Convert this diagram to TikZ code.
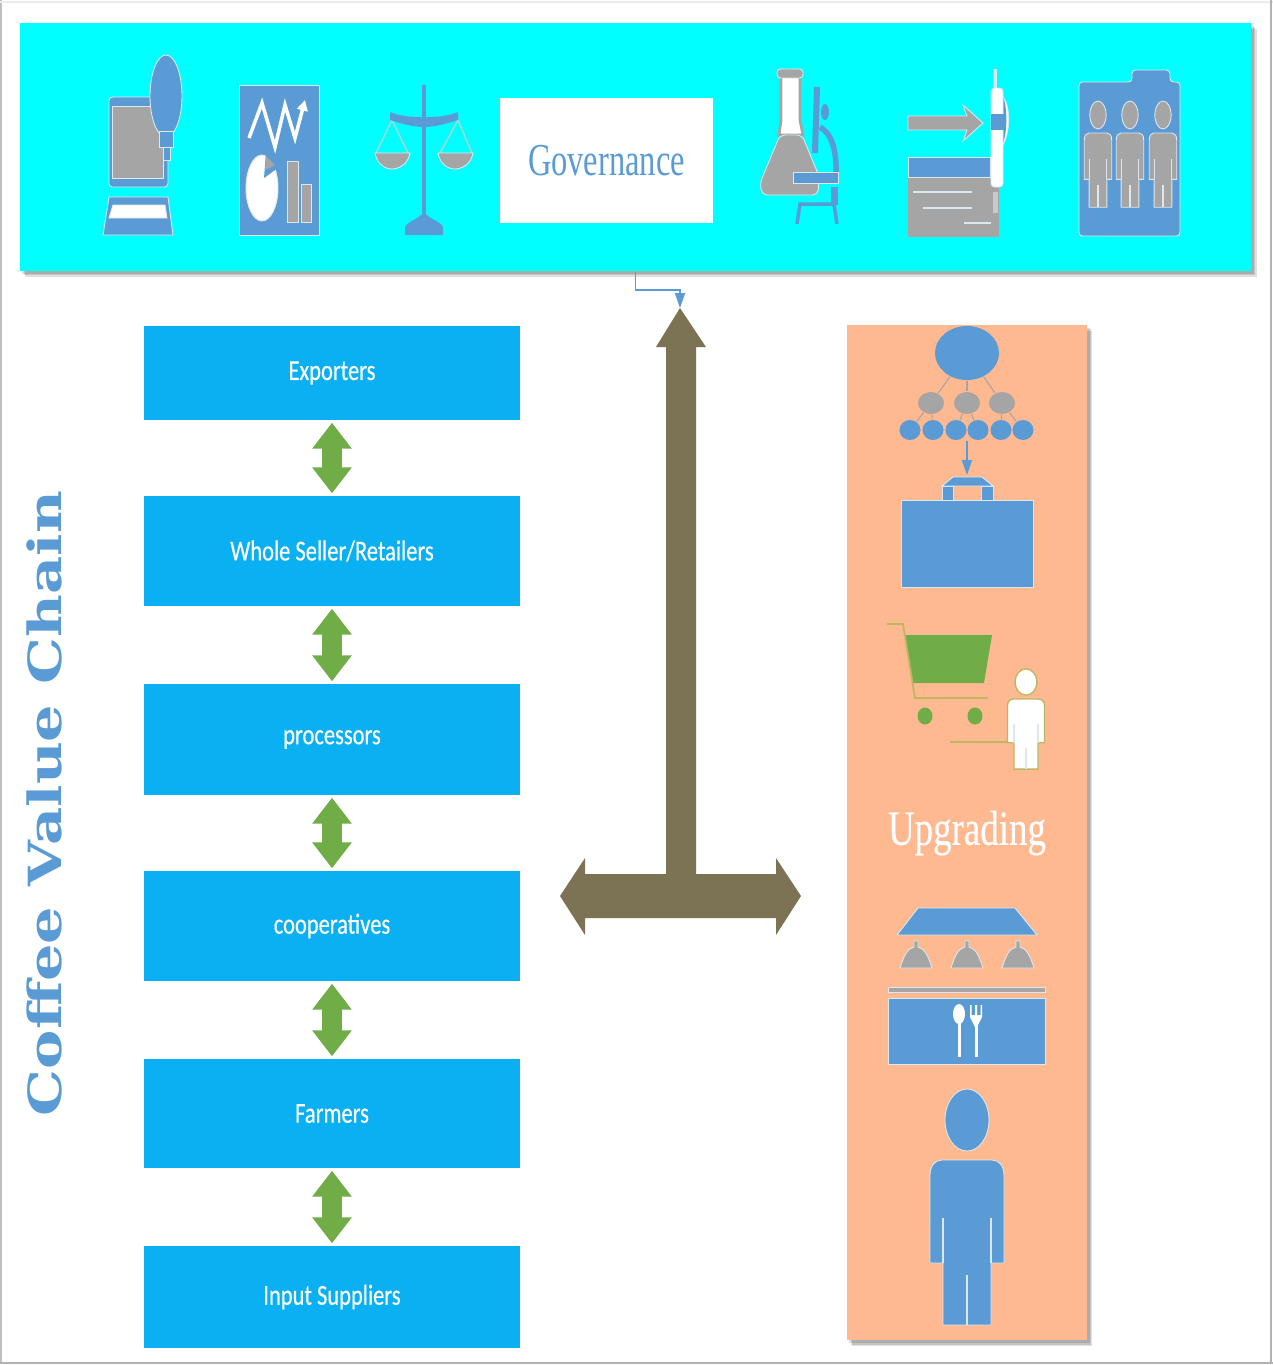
\documentclass[tikz,border=0pt]{standalone}
\usepackage{fontspec}
\usetikzlibrary{arrows.meta,shapes.geometric,shadows}
\setmainfont{Liberation Serif}
\newfontfamily\boxfont[FakeStretch=0.78,FakeBold=0.4]{Carlito}
\newfontfamily\govfont[FakeStretch=0.71]{Liberation Serif}
\newfontfamily\upfont[FakeStretch=0.75,FakeBold=0.3]{Liberation Serif}
\newfontfamily\chainfont[FakeStretch=1.29]{DejaVu Serif}
\definecolor{bandcyan}{HTML}{00FFFF}
\definecolor{boxblue}{HTML}{0AB0F2}
\definecolor{iconblue}{HTML}{5B9BD5}
\definecolor{icongray}{HTML}{A5A5A5}
\definecolor{panelorange}{HTML}{FFB990}
\definecolor{leafgreen}{HTML}{70AD47}
\definecolor{teebrown}{HTML}{7B7353}
\definecolor{paleline}{HTML}{DDE8EE}
\definecolor{oliveline}{HTML}{BDB765}
\definecolor{stringline}{HTML}{A8D8D0}
\tikzset{
  chainbox/.style={fill=boxblue,text=white,minimum width=3.76cm,inner sep=0pt,
    font=\boxfont\fontsize{8.2}{10}\selectfont},
  linkarrow/.style={draw=leafgreen,line width=0.2cm,shorten >=.02cm,shorten <=.02cm,
    {Triangle[width=.38cm,length=.26cm]}-{Triangle[width=.38cm,length=.26cm]}},
  softshadow/.style={
    drop shadow={shadow xshift=1.5pt,shadow yshift=-1.7pt,opacity=.12,fill=black},
    drop shadow={shadow xshift=1.1pt,shadow yshift=-1.2pt,opacity=.12,fill=black},
    drop shadow={shadow xshift=.7pt,shadow yshift=-.8pt,opacity=.12,fill=black}},
  blueicon/.style={fill=iconblue,draw=paleline,line width=.25pt},
  grayicon/.style={fill=icongray,draw=paleline,line width=.25pt},
  whiteicon/.style={fill=white,draw=paleline,line width=.25pt},
  orgnode/.style={ellipse,inner sep=0pt,draw=none},
  paleseam/.style={draw=paleline,line width=.3pt}
}
% one standing figure, head centre at #1,#2
\newcommand{\figureicon}[5]{
  \begin{scope}[shift={(#1,#2)},xscale=#3,yscale=#4]
    \path[#5] (0,0) ellipse [x radius=22,y radius=31];
    \path[#5] (-37,143) -- (-37,55) .. controls (-37,46) and (-32,40) .. (-25,40) -- (25,40)
      .. controls (32,40) and (37,46) .. (37,55) -- (37,143) -- (24,143) -- (24,205)
      -- (-24,205) -- (-24,143) -- cycle;
    \draw[paleseam] (-24,98) -- (-24,143) (24,98) -- (24,143) (0,155) -- (0,205);
  \end{scope}
}
\begin{document}
\begin{tikzpicture}[x=0.01cm,y=-0.01cm]
  \useasboundingbox (0,0) rectangle (1273,1365);
  % Outer frame
  \fill[white] (0,0) rectangle (1273,1365);
  \draw[black!25,line width=.8pt] (1,0) -- (1,1363);
  \draw[black!8,line width=.6pt] (0,2) -- (1273,2);
  \draw[black!30,line width=.6pt] (1271,0) -- (1271,1363);
  \draw[black!30,line width=.6pt] (0,1363) -- (1273,1363);
  % Top band
  \node[fill=bandcyan,minimum width=12.31cm,minimum height=2.48cm,inner sep=0pt,softshadow] (band) at (635.5,147) {};
  \node[fill=white,minimum width=2.13cm,minimum height=1.25cm,inner sep=0pt,text=iconblue,
    font=\govfont\fontsize{13}{15}\selectfont] (gov) at (606.5,160.5) {Governance};
  % Computer and bulb
  \path[blueicon,rounded corners=1pt] (109,97) rectangle (168,187);
  \path[grayicon] (112,106) rectangle (163,178);
  \path[blueicon] (166,96) ellipse [x radius=16,y radius=41];
  \path[blueicon] (159,131) rectangle (173,147);
  \path[blueicon] (163,147) rectangle (170,160);
  \path[blueicon] (109,197) -- (168,197) -- (173,235) -- (103,235) -- cycle;
  \path[whiteicon] (113,205) -- (165,205) -- (167,218) -- (109,218) -- cycle;
  % Chart sheet
  \path[blueicon] (239,85) rectangle (319,235);
  \draw[white,line width=1pt,-{Triangle[width=3pt,length=3pt]}] (249,138) -- (262,103) -- (275,147) -- (285,105) -- (295,138) -- (305,100);
  \path[whiteicon] (262,188) ellipse [x radius=16,y radius=33];
  \path[fill=iconblue] (264,178) -- (266,152) -- (282,165) -- cycle;
  \path[fill=icongray] (265,170) -- (266,156) -- (275,165) -- cycle;
  \path[grayicon] (287,161) rectangle (298,222);
  \path[grayicon] (301,184) rectangle (311,222);
  % Scales
  \draw[stringline,line width=.4pt] (392,120) -- (376,153) (392,120) -- (408,153) (458,120) -- (440,153) (458,120) -- (472,153);
  \path[fill=iconblue] (422,85) rectangle (426,215);
  \path[fill=iconblue] (390,112) .. controls (405,119) and (443,119) .. (458,112) -- (458,120)
    .. controls (445,124) and (435,127) .. (424,127) .. controls (413,127) and (403,124) .. (390,120) -- cycle;
  \path[grayicon] (375,153) -- (410,153) .. controls (408,165) and (398,169) .. (392,169) .. controls (386,169) and (377,165) .. (375,153) -- cycle;
  \path[grayicon] (438,153) -- (473,153) .. controls (471,165) and (461,169) .. (455,169) .. controls (449,169) and (440,165) .. (438,153) -- cycle;
  \path[fill=iconblue] (405,235) -- (405,228) .. controls (405,222) and (418,220) .. (424,212) .. controls (430,220) and (443,222) .. (443,228) -- (443,235) -- cycle;
  % Flask and microscope
  \path[fill=white,draw=icongray,line width=.8pt] (781,76) -- (800,76) -- (800,120) -- (803,135) -- (779,135) -- (781,120) -- cycle;
  \path[grayicon,rounded corners=1pt] (777,69) rectangle (803,78);
  \path[grayicon,rounded corners=1.5pt] (780,135) -- (802,135) -- (819,176) -- (818,195) -- (762,195) -- (760,183) -- cycle;
  \draw[iconblue,line width=.06cm] (817,87) -- (815,153);
  \path[fill=iconblue] (825,112) ellipse [x radius=4,y radius=8];
  \draw[iconblue,line width=.055cm] (820,127) .. controls (832,134) and (837,150) .. (836,178);
  \path[blueicon] (793,172) rectangle (838,183);
  \path[fill=iconblue] (831,187) rectangle (838,205);
  \draw[iconblue,line width=.035cm] (797,224) -- (800,204) -- (834,204) -- (837,224);
  % Arrow, sheet and pen
  \path[grayicon] (908,116) -- (967,116) -- (963,105) -- (983,123) -- (963,141) -- (967,130) -- (908,130) -- cycle;
  \path[fill=icongray] (908,178) rectangle (999,237);
  \path[blueicon] (908,157) rectangle (990,177);
  \draw[paleline,line width=.35pt] (913,192) -- (972,192) (923,208) -- (972,208) (964,223) -- (991,223);
  \path[fill=paleline] (993,69) rectangle (997,88);
  \path[fill=icongray!60!white] (993,192) rectangle (998,213);
  \path[whiteicon] (1003,97) .. controls (1010,105) and (1011,130) .. (1003,145) -- cycle;
  \path[fill=iconblue] (1003,97) .. controls (1007,105) and (1008,130) .. (1003,143) -- cycle;
  \path[whiteicon,rounded corners=1pt] (991,88) rectangle (1003,187);
  \path[fill=iconblue] (991,114) rectangle (1006,130);
  % Clipboard
  \path[blueicon,rounded corners=1pt] (1079,82) -- (1132,82) -- (1132,70) -- (1170,70) -- (1170,82) -- (1180,82) -- (1180,236) -- (1079,236) -- cycle;
  \foreach \x in {1098,1130,1163} {
    \figureicon{\x}{115}{0.37}{0.45}{grayicon}
  }
  % Value chain boxes
  \foreach \nm/\yc/\boxh/\txt in {exporters/373/94/Exporters,wholesale/551/110/{Whole Seller/Retailers},
    processors/739.5/111/processors,cooperatives/926/110/cooperatives,farmers/1113.5/109/Farmers,
    suppliers/1297/102/Input Suppliers} {
    \node[chainbox,minimum height=\boxh*0.01cm] (\nm) at (332,\yc) {\txt};
  }
  % Double arrows between boxes
  \draw[linkarrow] (exporters.south) -- (wholesale.north);
  \draw[linkarrow] (wholesale.south) -- (processors.north);
  \draw[linkarrow] (processors.south) -- (cooperatives.north);
  \draw[linkarrow] (cooperatives.south) -- (farmers.north);
  \draw[linkarrow] (farmers.south) -- (suppliers.north);
  % Side title
  \node[rotate=90,text=iconblue,font=\chainfont\bfseries\fontsize{13}{15}\selectfont] (chaintitle) at (44,803.5) {Coffee Value Chain};
  % Big tee arrow
  \coordinate (teetop) at (680,308);
  \fill[teebrown] (teetop) -- (706,347) -- (696,347) -- (696,874) -- (776,874) -- (776,858) -- (801,896)
    -- (776,935) -- (776,918) -- (585,918) -- (585,935) -- (560,896) -- (585,858) -- (585,874)
    -- (666,874) -- (666,347) -- (656,347) -- cycle;
  \draw[iconblue,line width=.5pt,-{Triangle[width=.1cm,length=.15cm]}] (band.south) -- ++(0,18) -| (teetop);
  % Upgrading panel
  \node[fill=panelorange,minimum width=2.4cm,minimum height=10.15cm,inner sep=0pt,softshadow] (panel) at (967,832.5) {};
  \node[text=white,font=\upfont\fontsize{14}{16}\selectfont] (upgrading) at (967,833) {Upgrading};
  % Organisation chart
  \node[orgnode,fill=iconblue,minimum width=.64cm,minimum height=.54cm] (boss) at (967,353) {};
  \foreach \nm/\x in {ma/931,mb/967,mc/1002} {
    \node[orgnode,fill=icongray,minimum width=.26cm,minimum height=.22cm] (\nm) at (\x,403) {};
    \draw[icongray,line width=.3pt] (boss) -- (\nm);
  }
  \foreach \nm/\x in {la/910,lb/933,lc/956,ld/978,le/1001,lf/1023} {
    \node[orgnode,fill=iconblue,minimum width=.21cm,minimum height=.2cm] (\nm) at (\x,430) {};
  }
  \draw[icongray,line width=.3pt] (ma) -- (la) (ma) -- (lb) (mb) -- (lc) (mb) -- (ld) (mc) -- (le) (mc) -- (lf);
  % Briefcase
  \path[blueicon] (942,500) -- (942,486) -- (953,486) -- (953,500) -- cycle;
  \path[blueicon] (981,500) -- (981,486) -- (993,486) -- (993,500) -- cycle;
  \path[blueicon] (942,486) -- (953,477) -- (982,477) -- (993,486) -- cycle;
  \node[fill=iconblue,draw=paleline,line width=.25pt,minimum width=1.32cm,minimum height=.87cm,inner sep=0pt] (case) at (967,543.5) {};
  \coordinate (handletop) at (967,475);
  \draw[iconblue,line width=.5pt,-{Triangle[width=.1cm,length=.15cm]}] (boss |- ld.south) -- (handletop);
  % Cart and shopper
  \path[fill=leafgreen] (905,635) -- (992,635) -- (984,683) -- (913,683) -- cycle;
  \draw[oliveline,line width=.5pt] (887,624) -- (903,624) -- (915,698) -- (988,698);
  \path[fill=leafgreen] (925,716) ellipse [x radius=7.5,y radius=8.5];
  \path[fill=leafgreen] (975,716) ellipse [x radius=7.5,y radius=8.5];
  \draw[oliveline,line width=.5pt] (950,742) -- (1008,742);
  \figureicon{1026}{682}{0.5}{0.425}{fill=white,draw=oliveline,line width=.4pt}
  % Lamps and counter
  \path[blueicon] (918,908) -- (1015,908) -- (1037,935) -- (897,935) -- cycle;
  \foreach \x in {916,967,1018} {
    \path[grayicon] (\x-16,968) .. controls (\x-12,955) and (\x-8,948) .. (\x-2,947) -- (\x-2,941) -- (\x+2,941) -- (\x+2,947)
      .. controls (\x+8,948) and (\x+12,955) .. (\x+16,968) -- cycle;
  }
  \path[grayicon] (888,987) rectangle (1045,992);
  \path[blueicon] (888,998) rectangle (1045,1064);
  \path[fill=white] (959,1014) ellipse [x radius=6,y radius=10];
  \path[fill=white] (957.5,1020) rectangle (960.5,1057);
  \path[fill=white] (974.5,1025) rectangle (977.5,1057);
  \path[fill=white] (970,1005) -- (971.5,1005) -- (971.5,1015) -- (975,1015) -- (975,1005) -- (977,1005) -- (977,1015) -- (980.5,1015) -- (980.5,1005) -- (982,1005) -- (982,1017) -- (977,1027) -- (975,1027) -- (970,1017) -- cycle;
  % Large figure
  \figureicon{967}{1120}{1}{1}{blueicon}
\end{tikzpicture}
\end{document}
